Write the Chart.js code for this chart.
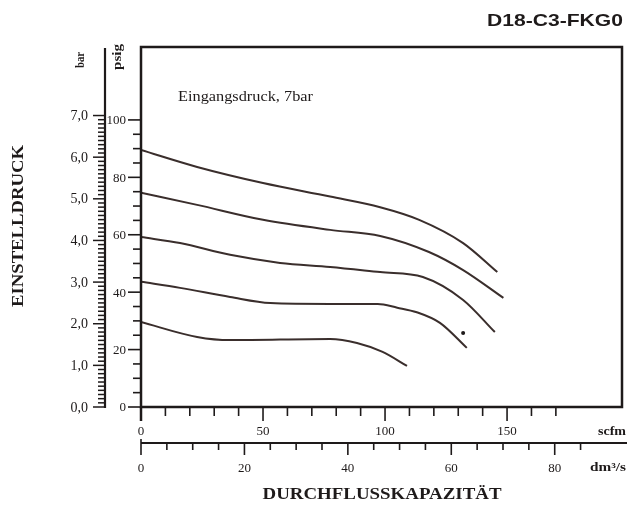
<!DOCTYPE html>
<html>
<head>
<meta charset="utf-8">
<script src="https://cdn.jsdelivr.net/npm/chart.js@4/dist/chart.umd.min.js"></script>
<style>
  html, body { margin: 0; padding: 0; background: #fff; }
  #wrap { width: 627px; height: 506px; }
</style>
</head>
<body>
<div id="wrap"><canvas id="flowChart" width="627" height="506"></canvas></div>
<script>
// --- Data (x = scfm, y = psig) ---
const curve1X = [0, 23, 50, 77.5, 98, 114, 132, 146];
const curve1Y = [89.5, 83.6, 78, 73.3, 69.6, 65.2, 57.1, 47];
const curve2X = [0, 23, 50, 77.5, 98, 118, 132, 148.5];
const curve2Y = [74.6, 70.4, 65.2, 61.7, 59.6, 54, 47.7, 38];
const curve3X = [0, 16, 36.5, 57, 77.5, 98, 115.5, 132, 145];
const curve3Y = [59.2, 57.1, 53, 50.2, 48.8, 47, 45.3, 37.3, 26.1];
const curve4X = [0, 16, 36.5, 53, 77.5, 97, 105, 113, 122.5, 133.5];
const curve4Y = [43.6, 41.5, 38.3, 36.2, 35.9, 35.9, 34.6, 33, 29.3, 20.6];
const curve5X = [0, 23, 36.5, 77.5, 88.5, 99, 109];
const curve5Y = [29.6, 24.4, 23.3, 23.7, 22.3, 19.2, 14.3];
const markX = [132];
const markY = [25.8];

// --- Axis ticks ---
const scfmLabels = [0, 50, 100, 150];
const psigLabels = [0, 20, 40, 60, 80, 100];
const barLabels = [0, 1, 2, 3, 4, 5, 6, 7];
const dmLabels = [0, 20, 40, 60, 80];

const PSI_PER_BAR = 14.5038;
const DM3S_PER_SCFM = 0.4719;

const lineColor = '#3a2e2c';
const inkColor = '#1e1a1a';
const serif = '"Liberation Serif", "DejaVu Serif", serif';

const toPoints = (xs, ys) => xs.map((x, i) => ({ x: x, y: ys[i] }));

const curveSet = (xs, ys) => ({
    data: toPoints(xs, ys),
    borderColor: lineColor,
    borderWidth: 2,
    pointRadius: 0,
    fill: false,
    cubicInterpolationMode: 'monotone'
});

// draw text squeezed/stretched to a target width
function fitText(ctx, text, x, y, width, rotate) {
    const w = ctx.measureText(text).width;
    ctx.save();
    ctx.translate(x, y);
    if (rotate) ctx.rotate(-Math.PI / 2);
    ctx.scale(width / w, 1);
    ctx.textAlign = 'center';
    ctx.fillText(text, 0, 0);
    ctx.restore();
}

// --- Axes & labels plugin ---
const axesPlugin = {
    id: 'axesPlugin',
    afterDraw(chart) {
        const ctx = chart.ctx;
        const xs = chart.scales.x;
        const ys = chart.scales.y;
        const area = chart.chartArea;

        ctx.save();
        ctx.strokeStyle = inkColor;
        ctx.fillStyle = inkColor;
        ctx.lineCap = 'butt';

        // plot frame
        ctx.lineWidth = 2.5;
        ctx.strokeRect(area.left, area.top, area.right - area.left, area.bottom - area.top);
        ctx.beginPath();
        ctx.moveTo(area.left, area.bottom);
        ctx.lineTo(area.left, area.bottom + 14);
        ctx.stroke();

        // psig ticks (left of frame)
        ctx.lineWidth = 1.6;
        for (let p = 0; p <= 100; p += 5) {
            const y = ys.getPixelForValue(p);
            const len = p % 20 === 0 ? 13 : 8;
            ctx.beginPath();
            ctx.moveTo(area.left - len, y);
            ctx.lineTo(area.left, y);
            ctx.stroke();
        }
        ctx.font = '13px ' + serif;
        ctx.textBaseline = 'middle';
        psigLabels.forEach(p => {
            ctx.textAlign = 'right';
            ctx.fillText(String(p), 126, ys.getPixelForValue(p) + 1);
        });

        // bar axis
        const barX = 105;
        ctx.lineWidth = 2.2;
        ctx.beginPath();
        ctx.moveTo(barX, area.top + 1);
        ctx.lineTo(barX, ys.getPixelForValue(0) + 1);
        ctx.stroke();
        ctx.lineWidth = 1.5;
        for (let i = 0; i <= 70; i++) {
            const y = ys.getPixelForValue(i / 10 * PSI_PER_BAR);
            const len = i % 10 === 0 ? 12 : 7;
            ctx.beginPath();
            ctx.moveTo(barX - len, y);
            ctx.lineTo(barX, y);
            ctx.stroke();
        }
        ctx.font = '14px ' + serif;
        barLabels.forEach(b => {
            ctx.textAlign = 'right';
            ctx.fillText(b.toFixed(1).replace('.', ','), 88, ys.getPixelForValue(b * PSI_PER_BAR) + 1);
        });

        // scfm ticks (below frame)
        ctx.lineWidth = 1.6;
        for (let s = 0; s <= 170; s += 10) {
            const x = xs.getPixelForValue(s);
            const len = s % 50 === 0 ? 14 : 9;
            ctx.beginPath();
            ctx.moveTo(x, area.bottom);
            ctx.lineTo(x, area.bottom + len);
            ctx.stroke();
        }
        ctx.font = '13px ' + serif;
        ctx.textAlign = 'center';
        scfmLabels.forEach(s => ctx.fillText(String(s), xs.getPixelForValue(s), 432));

        // dm3/s axis
        const dmY = 443;
        ctx.lineWidth = 2.2;
        ctx.beginPath();
        ctx.moveTo(xs.getPixelForValue(0), dmY);
        ctx.lineTo(627, dmY);
        ctx.stroke();
        ctx.lineWidth = 1.6;
        for (let d = 0; d <= 85; d += 5) {
            const x = xs.getPixelForValue(d / DM3S_PER_SCFM);
            const len = d % 20 === 0 ? 12 : 7;
            ctx.beginPath();
            ctx.moveTo(x, d === 0 ? dmY - 4 : dmY);
            ctx.lineTo(x, dmY + len);
            ctx.stroke();
        }
        ctx.font = '13px ' + serif;
        dmLabels.forEach(d => ctx.fillText(String(d), xs.getPixelForValue(d / DM3S_PER_SCFM), 469));

        // unit labels
        ctx.font = 'bold 12px ' + serif;
        fitText(ctx, 'scfm', 612, 432, 28);
        fitText(ctx, 'dm³/s', 608, 468, 36);
        fitText(ctx, 'bar', 81, 60, 16, true);
        fitText(ctx, 'psig', 118, 57, 26, true);

        // axis titles
        ctx.font = 'bold 17px ' + serif;
        fitText(ctx, 'DURCHFLUSSKAPAZITÄT', 382, 495, 239);
        fitText(ctx, 'EINSTELLDRUCK', 19, 226, 162, true);

        // annotation
        ctx.font = '14px ' + serif;
        fitText(ctx, 'Eingangsdruck, 7bar', 245.5, 97, 135);

        // product code
        ctx.font = 'bold 17px "Liberation Sans", Arial, sans-serif';
        fitText(ctx, 'D18-C3-FKG0', 555, 21, 136);

        ctx.restore();
    }
};

// --- Chart ---
const ctx = document.getElementById('flowChart').getContext('2d');
const flowChart = new Chart(ctx, {
    type: 'line',
    data: {
        datasets: [
            curveSet(curve1X, curve1Y),
            curveSet(curve2X, curve2Y),
            curveSet(curve3X, curve3Y),
            curveSet(curve4X, curve4Y),
            curveSet(curve5X, curve5Y),
            {
                data: toPoints(markX, markY),
                showLine: false,
                pointRadius: 2,
                pointBackgroundColor: inkColor,
                pointBorderWidth: 0
            }
        ]
    },
    options: {
        responsive: false,
        animation: false,
        layout: { padding: { left: 141, top: 47, right: 5, bottom: 99 } },
        scales: {
            x: { type: 'linear', min: 0, max: 197.1, display: false },
            y: { type: 'linear', min: 0, max: 125.4, display: false }
        },
        plugins: { legend: { display: false }, tooltip: { enabled: false } }
    },
    plugins: [axesPlugin]
});
</script>
</body>
</html>
